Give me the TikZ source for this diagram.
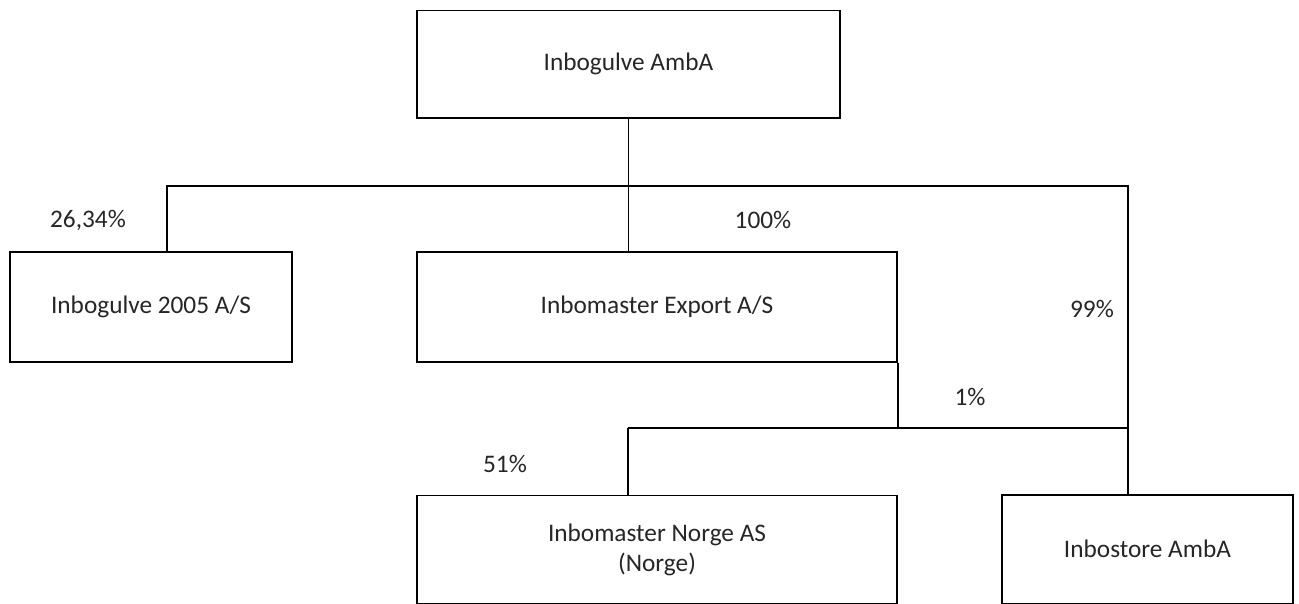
\documentclass[tikz,border=0pt]{standalone}
\usepackage{fontspec}
\setmainfont{Carlito}
\usepackage{tikz}
\usetikzlibrary{calc}

\begin{document}
\begin{tikzpicture}[x=1pt,y=-1pt,line width=1.8pt,
  box/.style={draw,black,fill=white,align=center,inner sep=0pt,text=black!85},
  pct/.style={inner sep=0pt,text=black!85},
  font=\fontsize{25.3}{30}\selectfont]
\useasboundingbox (0,0) rectangle (1299,604);
\node[box,minimum width=423pt,minimum height=107.5pt] (top) at (628.5,64.25) {Inbogulve AmbA};
\node[box,minimum width=282pt,minimum height=110pt] (g05) at (151,307) {Inbogulve 2005 A/S};
\node[box,minimum width=480pt,minimum height=110pt] (export) at (657,307) {Inbomaster Export A/S};
\node[box,minimum width=480pt,minimum height=108pt] (norge) at (657,549.5) {Inbomaster Norge AS\\(Norge)};
\node[box,minimum width=291pt,minimum height=108.5pt] (store) at (1147.5,549.25) {Inbostore AmbA};
% ejerandele
\node[pct] (p2634) at (88,220) {26,34\%};
\node[pct] (p100) at (763,220) {100\%};
\node[pct] (p99) at (1092,309) {99\%};
\node[pct] (p1) at (970,397) {1\%};
\node[pct] (p51) at (505,464) {51\%};
% forbindelser
\coordinate (bl) at (167,186);
\coordinate (br) at (1128,186);
\coordinate (jl) at (628,428);
\coordinate (jr) at (1128,428);
\draw (top.south) -- (top.south |- export.north);
\draw (bl |- g05.north) -- (bl) -- (br) -- (br |- store.north);
\draw (export.south east) -- (export.south east |- jr);
\draw (jl) -- (jr);
\draw (jl) -- (jl |- norge.north);
\end{tikzpicture}
\end{document}
